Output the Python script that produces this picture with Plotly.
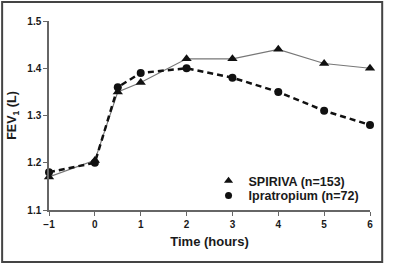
import plotly.graph_objects as go

time_hours = [-1, 0, 0.5, 1, 2, 3, 4, 5, 6]
spiriva = [1.17, 1.205, 1.35, 1.37, 1.42, 1.42, 1.44, 1.41, 1.40]
ipratropium = [1.18, 1.20, 1.36, 1.39, 1.40, 1.38, 1.35, 1.31, 1.28]
x_ticks = [-1, 0, 1, 2, 3, 4, 5, 6]
y_ticks = [1.1, 1.2, 1.3, 1.4, 1.5]

FONT = "Liberation Sans, Arial, sans-serif"
TXT = "#1a1a1a"

fig = go.Figure()
fig.add_trace(go.Scatter(
    x=time_hours, y=spiriva, mode="lines+markers", name="SPIRIVA (n=153)",
    line=dict(color="#777777", width=1.2),
    marker=dict(symbol="triangle-up", size=9, color="#111111"),
    showlegend=False, cliponaxis=False))
fig.add_trace(go.Scatter(
    x=time_hours, y=ipratropium, mode="lines+markers", name="Ipratropium (n=72)",
    line=dict(color="#111111", width=2.5, dash="6px,4px"),
    marker=dict(symbol="circle", size=8, color="#111111"),
    showlegend=False, cliponaxis=False))
# legend entries (markers only, as in the reference)
fig.add_trace(go.Scatter(x=[None], y=[None], mode="markers", name="SPIRIVA (n=153)",
                         marker=dict(symbol="triangle-up", size=8, color="#111111"),
                         legend="legend"))
fig.add_trace(go.Scatter(x=[None], y=[None], mode="markers", name="Ipratropium (n=72)",
                         marker=dict(symbol="circle", size=7, color="#111111"),
                         legend="legend2"))

leg_font = dict(family=FONT, size=12.5, color=TXT, weight="bold")
fig.update_layout(
    width=400, height=265,
    margin=dict(l=49, r=30, t=21, b=55),
    paper_bgcolor="white", plot_bgcolor="white",
    font=dict(family=FONT, size=11, color=TXT),
    legend=dict(x=0.497, y=0.1534, xanchor="left", yanchor="middle",
                bgcolor="rgba(0,0,0,0)", itemwidth=30, font=leg_font),
    legend2=dict(x=0.497, y=0.0741, xanchor="left", yanchor="middle",
                 bgcolor="rgba(0,0,0,0)", itemwidth=30, font=leg_font),
    shapes=[dict(type="rect", xref="paper", yref="paper",
                 x0=-0.146, x1=1.038, y0=-0.275, y1=1.1,
                 line=dict(color="#444444", width=2))],
)
fig.update_xaxes(
    range=[-1, 6], tickvals=x_ticks, ticks="outside", ticklen=4, tickwidth=1.2,
    tickcolor="#666666", showline=True, linecolor="#666666", linewidth=1.5,
    showgrid=False, zeroline=False,
    tickfont=dict(family=FONT, size=10, color=TXT, weight="bold"),
    title=dict(text="Time (hours)", standoff=8,
               font=dict(family=FONT, size=13, color=TXT, weight="bold")))
fig.update_yaxes(
    range=[1.1, 1.5], tickvals=y_ticks, tickformat=".1f", ticks="outside", ticklen=4,
    tickwidth=1.2, tickcolor="#666666", showline=True, linecolor="#666666",
    linewidth=1.5, showgrid=False, zeroline=False,
    tickfont=dict(family=FONT, size=10, color=TXT, weight="bold"),
    title=dict(text="FEV<sub>1</sub> (L)", standoff=8,
               font=dict(family=FONT, size=12.5, color=TXT, weight="bold")))

fig.write_html("out.html")
